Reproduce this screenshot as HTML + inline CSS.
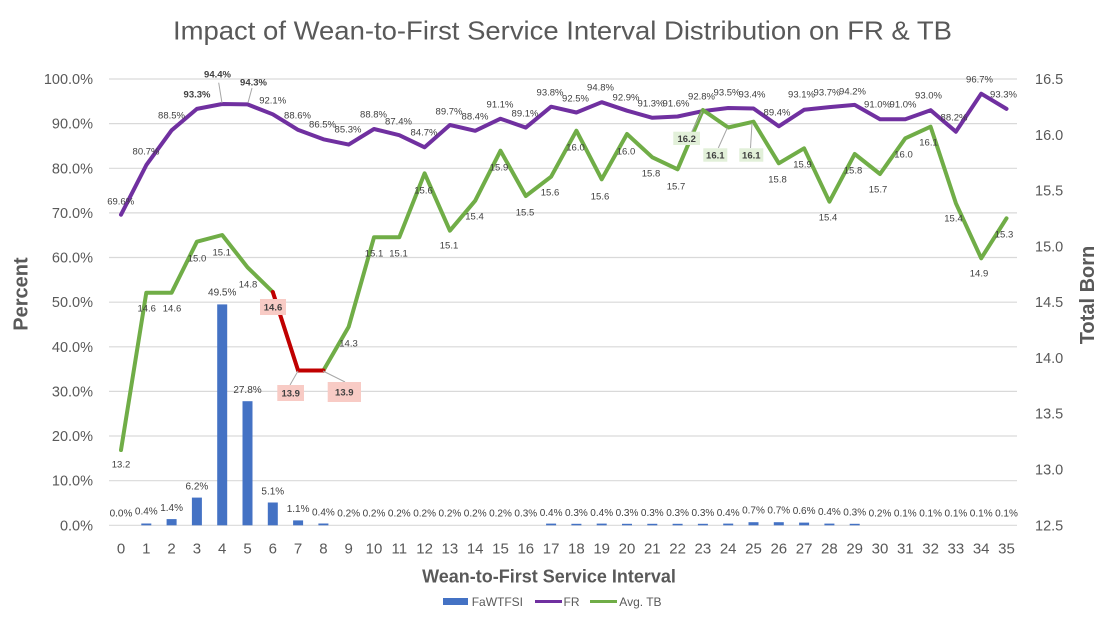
<!DOCTYPE html>
<html>
<head>
<meta charset="utf-8">
<style>
html,body{margin:0;padding:0;background:#fff;}
svg{display:block;font-family:"Liberation Sans",sans-serif;}
</style>
</head>
<body>
<svg width="1102" height="622" viewBox="0 0 1102 622" xmlns="http://www.w3.org/2000/svg">
<rect width="1102" height="622" fill="#fff"/>
<!-- Title -->
<text x="173" y="39.5" font-size="26" fill="#595959" textLength="779" lengthAdjust="spacingAndGlyphs">Impact of Wean-to-First Service Interval Distribution on FR &amp; TB</text>

<!-- Gridlines -->
<g stroke="#d9d9d9" stroke-width="1.2">
<line x1="109" y1="79" x2="1017" y2="79"/>
<line x1="109" y1="123.6" x2="1017" y2="123.6"/>
<line x1="109" y1="168.3" x2="1017" y2="168.3"/>
<line x1="109" y1="212.9" x2="1017" y2="212.9"/>
<line x1="109" y1="257.5" x2="1017" y2="257.5"/>
<line x1="109" y1="302.2" x2="1017" y2="302.2"/>
<line x1="109" y1="346.8" x2="1017" y2="346.8"/>
<line x1="109" y1="391.4" x2="1017" y2="391.4"/>
<line x1="109" y1="436" x2="1017" y2="436"/>
<line x1="109" y1="480.7" x2="1017" y2="480.7"/>
<line x1="109" y1="525.3" x2="1017" y2="525.3"/>
</g>

<!-- Left axis labels -->
<g font-size="14.5" fill="#595959" text-anchor="end">
<text x="93" y="84">100.0%</text>
<text x="93" y="128.6">90.0%</text>
<text x="93" y="173.3">80.0%</text>
<text x="93" y="217.9">70.0%</text>
<text x="93" y="262.5">60.0%</text>
<text x="93" y="307.2">50.0%</text>
<text x="93" y="351.8">40.0%</text>
<text x="93" y="396.4">30.0%</text>
<text x="93" y="441">20.0%</text>
<text x="93" y="485.7">10.0%</text>
<text x="93" y="530.3">0.0%</text>
</g>

<!-- Right axis labels -->
<g font-size="14.5" fill="#595959">
<text x="1035" y="84">16.5</text>
<text x="1035" y="139.8">16.0</text>
<text x="1035" y="195.6">15.5</text>
<text x="1035" y="251.4">15.0</text>
<text x="1035" y="307.2">14.5</text>
<text x="1035" y="363">14.0</text>
<text x="1035" y="418.7">13.5</text>
<text x="1035" y="474.5">13.0</text>
<text x="1035" y="530.3">12.5</text>
</g>

<!-- Axis titles -->
<text transform="translate(27.5,294) rotate(-90)" text-anchor="middle" font-size="20" font-weight="bold" fill="#595959">Percent</text>
<text transform="translate(1094,295) rotate(-90)" text-anchor="middle" font-size="20" font-weight="bold" fill="#595959">Total Born</text>
<text x="549" y="582.5" text-anchor="middle" font-size="18" font-weight="bold" fill="#595959">Wean-to-First Service Interval</text>

<!-- X tick labels -->
<g font-size="15" fill="#595959" text-anchor="middle">
<text x="121" y="553.5">0</text><text x="146.3" y="553.5">1</text><text x="171.6" y="553.5">2</text><text x="196.9" y="553.5">3</text>
<text x="222.2" y="553.5">4</text><text x="247.5" y="553.5">5</text><text x="272.8" y="553.5">6</text><text x="298.1" y="553.5">7</text>
<text x="323.4" y="553.5">8</text><text x="348.7" y="553.5">9</text><text x="374" y="553.5">10</text><text x="399.3" y="553.5">11</text>
<text x="424.6" y="553.5">12</text><text x="449.9" y="553.5">13</text><text x="475.2" y="553.5">14</text><text x="500.5" y="553.5">15</text>
<text x="525.8" y="553.5">16</text><text x="551.1" y="553.5">17</text><text x="576.4" y="553.5">18</text><text x="601.7" y="553.5">19</text>
<text x="627" y="553.5">20</text><text x="652.3" y="553.5">21</text><text x="677.6" y="553.5">22</text><text x="702.9" y="553.5">23</text>
<text x="728.2" y="553.5">24</text><text x="753.5" y="553.5">25</text><text x="778.8" y="553.5">26</text><text x="804.1" y="553.5">27</text>
<text x="829.4" y="553.5">28</text><text x="854.7" y="553.5">29</text><text x="880" y="553.5">30</text><text x="905.3" y="553.5">31</text>
<text x="930.6" y="553.5">32</text><text x="955.9" y="553.5">33</text><text x="981.2" y="553.5">34</text><text x="1006.5" y="553.5">35</text>
</g>

<!-- Bars -->
<g fill="#4472c4">
<rect x="141.3" y="523.5" width="10" height="1.8"/>
<rect x="166.6" y="519.1" width="10" height="6.2"/>
<rect x="191.9" y="497.6" width="10" height="27.7"/>
<rect x="217.2" y="304.4" width="10" height="220.9"/>
<rect x="242.5" y="401.2" width="10" height="124.1"/>
<rect x="267.8" y="502.5" width="10" height="22.8"/>
<rect x="293.1" y="520.4" width="10" height="4.9"/>
<rect x="318.4" y="523.5" width="10" height="1.8"/>
<rect x="546.1" y="523.6" width="10" height="1.7"/>
<rect x="571.4" y="523.8" width="10" height="1.5"/>
<rect x="596.7" y="523.6" width="10" height="1.7"/>
<rect x="622" y="523.8" width="10" height="1.5"/>
<rect x="647.3" y="523.8" width="10" height="1.5"/>
<rect x="672.6" y="523.8" width="10" height="1.5"/>
<rect x="697.9" y="523.8" width="10" height="1.5"/>
<rect x="723.2" y="523.6" width="10" height="1.7"/>
<rect x="748.5" y="522.2" width="10" height="3.1"/>
<rect x="773.8" y="522.2" width="10" height="3.1"/>
<rect x="799.1" y="522.6" width="10" height="2.7"/>
<rect x="824.4" y="523.6" width="10" height="1.7"/>
<rect x="849.7" y="523.8" width="10" height="1.5"/>
</g>

<!-- FR line -->
<polyline fill="none" stroke="#7030a0" stroke-width="4" stroke-linejoin="round" stroke-linecap="round"
points="121,214.7 146.3,165.1 171.6,130.3 196.9,108.9 222.2,104 247.5,104.4 272.8,114.3 298.1,129.9 323.4,139.3 348.7,144.6 374,129 399.3,135.2 424.6,147.3 449.9,125 475.2,130.8 500.5,118.7 525.8,127.6 551.1,106.7 576.4,112.5 601.7,102.2 627,110.7 652.3,117.8 677.6,116.5 702.9,111.1 728.2,108 753.5,108.5 778.8,126.3 804.1,109.8 829.4,107.1 854.7,104.9 880,119.2 905.3,119.2 930.6,110.2 955.9,131.7 981.2,93.7 1006.5,108.9"/>

<!-- TB line -->
<polyline fill="none" stroke="#70ad47" stroke-width="4" stroke-linejoin="round" stroke-linecap="round"
points="121,450 146.3,292.7 171.6,292.7 196.9,241.7 222.2,235 247.5,267.3 272.8,292"/>
<polyline fill="none" stroke="#70ad47" stroke-width="4" stroke-linejoin="round" stroke-linecap="round"
points="323.4,370.5 348.7,326.7 374,237.3 399.3,237.3 424.6,173.3 449.9,230.7 475.2,200.7 500.5,150.7 525.8,196 551.1,176.7 576.4,130.7 601.7,179.3 627,134 652.3,157.3 677.6,169.3 702.9,110 728.2,127.5 753.5,121.7 778.8,163.3 804.1,148.3 829.4,201.7 854.7,154 880,174 905.3,138.3 930.6,126.7 955.9,203.3 981.2,258.3 1006.5,218.3"/>
<polyline fill="none" stroke="#c00000" stroke-width="4" stroke-linejoin="round" stroke-linecap="round"
points="272.8,292 298.1,370.5 323.4,370.5"/>

<!-- Leader lines -->
<g stroke="#a6a6a6" stroke-width="1">
<line x1="218.7" y1="82.7" x2="222" y2="103"/>
<line x1="252" y1="88" x2="248" y2="102.7"/>
<line x1="298" y1="371" x2="290" y2="385"/>
<line x1="323" y1="371" x2="345" y2="382"/>
<line x1="691.7" y1="131.7" x2="702" y2="111.7"/>
<line x1="718.3" y1="148" x2="727.3" y2="128"/>
<line x1="750.5" y1="148" x2="752" y2="123"/>
</g>

<!-- Label boxes -->
<rect x="260" y="299" width="26" height="16" fill="#f8cbc5"/>
<rect x="277.3" y="385" width="26.7" height="16" fill="#f8cbc5"/>
<rect x="327.7" y="382" width="33.3" height="20" fill="#f8cbc5"/>
<rect x="673.3" y="131.7" width="26.7" height="13.3" fill="#e2f0d9"/>
<rect x="703.3" y="148.3" width="24" height="13.4" fill="#e2f0d9"/>
<rect x="739.3" y="148.3" width="24" height="13.4" fill="#e2f0d9"/>

<!-- FR labels -->
<g font-size="9.5" fill="#404040" text-anchor="middle">
<text x="120.7" y="204.5">69.6%</text>
<text x="146" y="154.5">80.7%</text>
<text x="171.5" y="118.5">88.5%</text>
<text x="272.7" y="103.5">92.1%</text>
<text x="297.5" y="118.5">88.6%</text>
<text x="322.5" y="127.5">86.5%</text>
<text x="348" y="132.5">85.3%</text>
<text x="373.5" y="117.5">88.8%</text>
<text x="398.5" y="124.5">87.4%</text>
<text x="424" y="135.5">84.7%</text>
<text x="449" y="114.5">89.7%</text>
<text x="475" y="119.5">88.4%</text>
<text x="500" y="107.5">91.1%</text>
<text x="525" y="116.5">89.1%</text>
<text x="550" y="95.5">93.8%</text>
<text x="575.5" y="101.5">92.5%</text>
<text x="600.5" y="90.5">94.8%</text>
<text x="626" y="100.5">92.9%</text>
<text x="651" y="106.5">91.3%</text>
<text x="676" y="106.5">91.6%</text>
<text x="701.5" y="99.5">92.8%</text>
<text x="727" y="95.5">93.5%</text>
<text x="752" y="97.5">93.4%</text>
<text x="777" y="115.5">89.4%</text>
<text x="801.5" y="97.5">93.1%</text>
<text x="827" y="95.5">93.7%</text>
<text x="852.5" y="94.5">94.2%</text>
<text x="877.5" y="107.5">91.0%</text>
<text x="903" y="107.5">91.0%</text>
<text x="928.5" y="98.5">93.0%</text>
<text x="954" y="120.5">88.2%</text>
<text x="979.5" y="82.5">96.7%</text>
<text x="1003.5" y="97.5">93.3%</text>
</g>
<g font-size="9.5" fill="#404040" text-anchor="middle" font-weight="bold">
<text x="197" y="97.5">93.3%</text>
<text x="217.5" y="77.5">94.4%</text>
<text x="253.5" y="85.5">94.3%</text>
</g>

<!-- TB labels -->
<g font-size="9.5" fill="#404040" text-anchor="middle">
<text x="121" y="467.5">13.2</text>
<text x="146.7" y="311.5">14.6</text>
<text x="172" y="311.5">14.6</text>
<text x="197" y="261.5">15.0</text>
<text x="221.7" y="255.5">15.1</text>
<text x="248" y="287.5">14.8</text>
<text x="348.5" y="346.5">14.3</text>
<text x="374" y="256.5">15.1</text>
<text x="398.5" y="256.5">15.1</text>
<text x="423.5" y="193.5">15.6</text>
<text x="449" y="248.5">15.1</text>
<text x="474.5" y="219.5">15.4</text>
<text x="499" y="170.5">15.9</text>
<text x="525" y="215.5">15.5</text>
<text x="550" y="195.5">15.6</text>
<text x="575.5" y="150.5">16.0</text>
<text x="600" y="199.5">15.6</text>
<text x="626" y="154.5">16.0</text>
<text x="651" y="176.5">15.8</text>
<text x="676" y="189.5">15.7</text>
<text x="777.5" y="182.5">15.8</text>
<text x="802.5" y="167.5">15.9</text>
<text x="828" y="220.5">15.4</text>
<text x="853" y="173.5">15.8</text>
<text x="878" y="192.5">15.7</text>
<text x="903.5" y="157.5">16.0</text>
<text x="928.5" y="145.5">16.1</text>
<text x="953.5" y="221.5">15.4</text>
<text x="979" y="276.5">14.9</text>
<text x="1004" y="237.5">15.3</text>
</g>
<g font-size="9.5" fill="#404040" text-anchor="middle" font-weight="bold">
<text x="273" y="310.5">14.6</text>
<text x="290.7" y="396.5">13.9</text>
<text x="344.3" y="395.5">13.9</text>
<text x="686.7" y="141.8">16.2</text>
<text x="715.3" y="158.5">16.1</text>
<text x="751.3" y="158.5">16.1</text>
</g>

<!-- Bar labels -->
<g font-size="10" fill="#404040" text-anchor="middle">
<text x="121" y="516.3">0.0%</text>
<text x="146.3" y="514.6">0.4%</text>
<text x="171.6" y="510.9">1.4%</text>
<text x="196.9" y="489.3">6.2%</text>
<text x="222.2" y="295.6">49.5%</text>
<text x="247.5" y="392.9">27.8%</text>
<text x="272.8" y="494.6">5.1%</text>
<text x="298.1" y="511.9">1.1%</text>
<text x="323.4" y="515.6">0.4%</text>
<text x="348.7" y="516.3">0.2%</text>
<text x="374" y="516.3">0.2%</text>
<text x="399.3" y="516.3">0.2%</text>
<text x="424.6" y="516.3">0.2%</text>
<text x="449.9" y="516.3">0.2%</text>
<text x="475.2" y="516.3">0.2%</text>
<text x="500.5" y="516.3">0.2%</text>
<text x="525.8" y="516.3">0.3%</text>
<text x="551.1" y="516">0.4%</text>
<text x="576.4" y="516">0.3%</text>
<text x="601.7" y="516">0.4%</text>
<text x="627" y="516">0.3%</text>
<text x="652.3" y="516">0.3%</text>
<text x="677.6" y="516">0.3%</text>
<text x="702.9" y="516">0.3%</text>
<text x="728.2" y="516">0.4%</text>
<text x="753.5" y="513.6">0.7%</text>
<text x="778.8" y="513.6">0.7%</text>
<text x="804.1" y="514">0.6%</text>
<text x="829.4" y="515">0.4%</text>
<text x="854.7" y="515.6">0.3%</text>
<text x="880" y="516.3">0.2%</text>
<text x="905.3" y="516.3">0.1%</text>
<text x="930.6" y="516.3">0.1%</text>
<text x="955.9" y="516.3">0.1%</text>
<text x="981.2" y="516.3">0.1%</text>
<text x="1006.5" y="516.3">0.1%</text>
</g>

<!-- Legend -->
<rect x="443" y="598" width="25" height="7" fill="#4472c4"/>
<text x="471.7" y="606" font-size="12" fill="#595959">FaWTFSI</text>
<line x1="535" y1="601.5" x2="562" y2="601.5" stroke="#7030a0" stroke-width="3"/>
<text x="563.5" y="606" font-size="12" fill="#595959">FR</text>
<line x1="590" y1="601.5" x2="617" y2="601.5" stroke="#70ad47" stroke-width="3"/>
<text x="619.3" y="606" font-size="12" fill="#595959">Avg. TB</text>
</svg>
</body>
</html>
